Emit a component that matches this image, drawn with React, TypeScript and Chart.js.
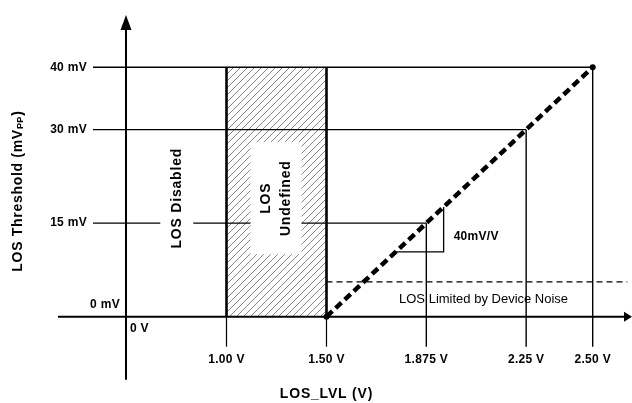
import React, { useEffect, useRef } from 'react';
import { Chart, LinearScale, registerables } from 'chart.js';

// ---- data ----
const xTickValues = [0, 1.0, 1.5, 1.875, 2.25, 2.5];
const xTickLabels = ['0 V', '1.00 V', '1.50 V', '1.875 V', '2.25 V', '2.50 V'];
const yTickValues = [0, 15, 30, 40];
const yTickLabels = ['0 mV', '15 mV', '30 mV', '40 mV'];
const losLvl = [1.5, 1.875, 2.25, 2.5];
const losThreshold = [0, 15, 30, 40];
const disabledRange = [0, 1.0];
const undefinedRange = [1.0, 1.5];
const undefinedTop = 40;
const regionLabelLevel = 19;
const noiseLevel = 5.6;
const noiseRange = [1.5, 2.63];
const noiseLabelAt = 2.09;
const slopeRun = [1.76, 1.94];
const slopeRise = [10.4, 17.6];
const slopeLabel = '40mV/V';
const noiseLabel = 'LOS Limited by Device Noise';
const disabledLabel = 'LOS Disabled';
const undefinedLabel = ['LOS', 'Undefined'];
const xTitle = 'LOS_LVL (V)';
const yTitleMain = 'LOS Threshold (mV';
const yTitleSub = 'PP';

// axis is drawn "not to scale": piecewise-linear breaks (value -> fraction of width)
const X_BREAK_VALUES = [0, 1.0, 1.5, 2.5];
const X_BREAK_POS = [0.19937, 0.35838, 0.51661, 0.93782];

function interp(v: number, from: number[], to: number[]) {
  let i = 0;
  if (v <= from[0]) i = 0;
  else if (v >= from[from.length - 1]) i = from.length - 2;
  else {
    while (i < from.length - 2 && v > from[i + 1]) i++;
  }
  const t = (v - from[i]) / (from[i + 1] - from[i]);
  return to[i] + t * (to[i + 1] - to[i]);
}

class BrokenLinearScale extends LinearScale {
  static id = 'brokenLinear';
  static defaults = {};
  getPixelForValue(value: number) {
    return this.left + interp(value, X_BREAK_VALUES, X_BREAK_POS) * this.width;
  }
  getValueForPixel(pixel: number) {
    return interp((pixel - this.left) / this.width, X_BREAK_POS, X_BREAK_VALUES);
  }
}

Chart.register(...registerables, BrokenLinearScale as any);

const FONT = '"Liberation Sans", Arial, Helvetica, sans-serif';

function makeHatch(): CanvasPattern | string {
  const c = document.createElement('canvas');
  c.width = 7;
  c.height = 7;
  const g = c.getContext('2d');
  if (!g) return '#ccc';
  g.strokeStyle = '#666';
  g.lineWidth = 0.8;
  g.beginPath();
  g.moveTo(-1, 8); g.lineTo(8, -1);
  g.moveTo(-1, 1); g.lineTo(1, -1);
  g.moveTo(6, 8); g.lineTo(8, 6);
  g.stroke();
  const p = g.createPattern(c, 'repeat');
  return p || '#ccc';
}

function line(ctx: CanvasRenderingContext2D, x1: number, y1: number, x2: number, y2: number) {
  ctx.beginPath();
  ctx.moveTo(x1, y1);
  ctx.lineTo(x2, y2);
  ctx.stroke();
}

function text(ctx: CanvasRenderingContext2D, s: string, x: number, y: number, font: string, align: CanvasTextAlign, spacing = '0px') {
  ctx.font = font;
  (ctx as any).letterSpacing = spacing;
  ctx.textAlign = align;
  ctx.textBaseline = 'middle';
  ctx.fillText(s, x, y);
}

const diagramPlugin = {
  id: 'diagram',
  afterDatasetDraw(chart: any, args: any) {
    if (args.index !== 1) return;
    const ctx: CanvasRenderingContext2D = chart.ctx;
    const xs = chart.scales.x;
    const ys = chart.scales.y;
    const X = (v: number) => xs.getPixelForValue(v);
    const Y = (v: number) => ys.getPixelForValue(v);
    const area = chart.chartArea;
    const x0 = X(0);
    const y0 = Y(0);
    const guideLeft = x0 - 33;
    const tickBottom = y0 + 30;

    ctx.save();
    ctx.strokeStyle = '#000';
    ctx.fillStyle = '#000';

    // guide lines from each labelled point of the threshold line
    ctx.lineWidth = 1.4;
    for (let i = 1; i < losLvl.length; i++) {
      const px = X(losLvl[i]);
      const py = Y(losThreshold[i]);
      line(ctx, guideLeft, py, px, py);
      line(ctx, px, py, px, tickBottom);
    }

    // undefined region borders
    ctx.lineWidth = 2.6;
    for (const v of undefinedRange) line(ctx, X(v), Y(undefinedTop), X(v), y0);
    ctx.lineWidth = 1.2;
    for (const v of undefinedRange) line(ctx, X(v), y0, X(v), tickBottom);

    // noise floor dashed line
    ctx.save();
    ctx.lineWidth = 1.2;
    ctx.setLineDash([6, 4]);
    line(ctx, X(noiseRange[0]), Y(noiseLevel), X(noiseRange[1]), Y(noiseLevel));
    ctx.restore();

    // slope triangle
    ctx.lineWidth = 1.3;
    ctx.beginPath();
    ctx.moveTo(X(slopeRun[0]), Y(slopeRise[0]));
    ctx.lineTo(X(slopeRun[1]), Y(slopeRise[0]));
    ctx.lineTo(X(slopeRun[1]), Y(slopeRise[1]));
    ctx.stroke();

    // axes
    ctx.lineWidth = 2;
    const yTip = area.top + 15;
    line(ctx, x0, tickBottom + 33, x0, yTip + 12);
    ctx.beginPath();
    ctx.moveTo(x0, yTip);
    ctx.lineTo(x0 - 5.5, yTip + 15);
    ctx.lineTo(x0 + 5.5, yTip + 15);
    ctx.closePath();
    ctx.fill();
    const xTip = area.right;
    line(ctx, x0 - 68, y0, xTip - 6, y0);
    ctx.beginPath();
    ctx.moveTo(xTip, y0);
    ctx.lineTo(xTip - 8, y0 - 5);
    ctx.lineTo(xTip - 8, y0 + 5);
    ctx.closePath();
    ctx.fill();

    // label backgrounds
    ctx.fillStyle = '#fff';
    const dcx = X((disabledRange[0] + disabledRange[1]) / 2);
    const ucx = X((undefinedRange[0] + undefinedRange[1]) / 2);
    const ly = Y(regionLabelLevel);
    ctx.fillRect(dcx - 16, ly - 52, 33, 104);
    ctx.fillRect(ucx - 26, ly - 56, 51, 112);

    // texts
    ctx.fillStyle = '#000';
    const bold11 = `bold 12px ${FONT}`;
    const bold14 = `bold 14px ${FONT}`;
    for (let i = 0; i < xTickValues.length; i++) {
      if (xTickValues[i] === 0) text(ctx, xTickLabels[i], x0 + 4, y0 + 12, bold11, 'left', '0.3px');
      else text(ctx, xTickLabels[i], X(xTickValues[i]), y0 + 43, bold11, 'center', '0.3px');
    }
    for (let i = 0; i < yTickValues.length; i++) {
      if (yTickValues[i] === 0) text(ctx, yTickLabels[i], x0 - 6, y0 - 12, bold11, 'right', '0.3px');
      else text(ctx, yTickLabels[i], guideLeft - 6, Y(yTickValues[i]), bold11, 'right', '0.3px');
    }
    text(ctx, slopeLabel, X(slopeRun[1]) + 10, Y(slopeRise[0]) - 15, bold11, 'left', '0.3px');
    text(ctx, noiseLabel, X(noiseLabelAt), Y(noiseLevel) + 18, `13px ${FONT}`, 'center');
    text(ctx, xTitle, X(1.5), area.bottom - 9, bold14, 'center', '0.8px');

    // rotated texts
    ctx.save();
    ctx.translate(dcx + 1, ly);
    ctx.rotate(-Math.PI / 2);
    text(ctx, disabledLabel, 0, 0, bold14, 'center', '0.8px');
    ctx.restore();

    ctx.save();
    ctx.translate(ucx, ly);
    ctx.rotate(-Math.PI / 2);
    text(ctx, undefinedLabel[0], 0, -10, bold14, 'center', '0.8px');
    text(ctx, undefinedLabel[1], 0, 10, bold14, 'center', '0.8px');
    ctx.restore();

    // y title with subscript
    ctx.save();
    ctx.translate(18, 191);
    ctx.rotate(-Math.PI / 2);
    ctx.font = bold14;
    (ctx as any).letterSpacing = '0.7px';
    const wMain = ctx.measureText(yTitleMain).width;
    ctx.font = `bold 9px ${FONT}`;
    const wSub = ctx.measureText(yTitleSub).width;
    ctx.font = bold14;
    const wClose = ctx.measureText(')').width;
    let sx = -(wMain + wSub + wClose) / 2;
    text(ctx, yTitleMain, sx, 0, bold14, 'left', '0.7px');
    sx += wMain;
    text(ctx, yTitleSub, sx, 3, `bold 9px ${FONT}`, 'left', '0.4px');
    sx += wSub;
    text(ctx, ')', sx, 0, bold14, 'left', '0.7px');
    ctx.restore();

    ctx.restore();
  },
};

export default function App() {
  const ref = useRef<HTMLCanvasElement>(null);
  useEffect(() => {
    if (!ref.current) return;
    const chart = new Chart(ref.current, {
      type: 'line',
      data: {
        datasets: [
          {
            label: 'LOS threshold',
            data: losLvl.map((x, i) => ({ x, y: losThreshold[i] })),
            borderColor: '#000',
            borderWidth: 4.5,
            borderDash: [8, 4.5],
            pointRadius: losLvl.map((_, i) => (i === 0 || i === losLvl.length - 1 ? 3 : 0)),
            pointBackgroundColor: '#000',
            pointBorderWidth: 0,
            fill: false,
            tension: 0,
            clip: false,
          } as any,
          {
            label: 'LOS undefined',
            data: undefinedRange.map((x) => ({ x, y: undefinedTop })),
            borderColor: 'rgba(0,0,0,0)',
            borderWidth: 1,
            pointRadius: 0,
            backgroundColor: makeHatch(),
            fill: 'origin',
            clip: false,
          } as any,
        ],
      },
      options: {
        responsive: false,
        animation: false,
        parsing: true,
        layout: { padding: 0, autoPadding: false } as any,
        plugins: {
          legend: { display: false },
          title: { display: false },
          tooltip: { enabled: false },
        },
        events: [],
        scales: {
          x: { type: 'brokenLinear' as any, min: -1.5, max: 3.5, display: false },
          y: { type: 'linear', min: -13.84, max: 50.79, display: false },
        },
      },
      plugins: [diagramPlugin],
    });
    return () => chart.destroy();
  }, []);
  return (
    <div style={{ position: 'absolute', left: 0, top: 0, width: 632, height: 403, background: '#fff' }}>
      <canvas ref={ref} width={632} height={403} style={{ display: 'block' }} />
    </div>
  );
}
